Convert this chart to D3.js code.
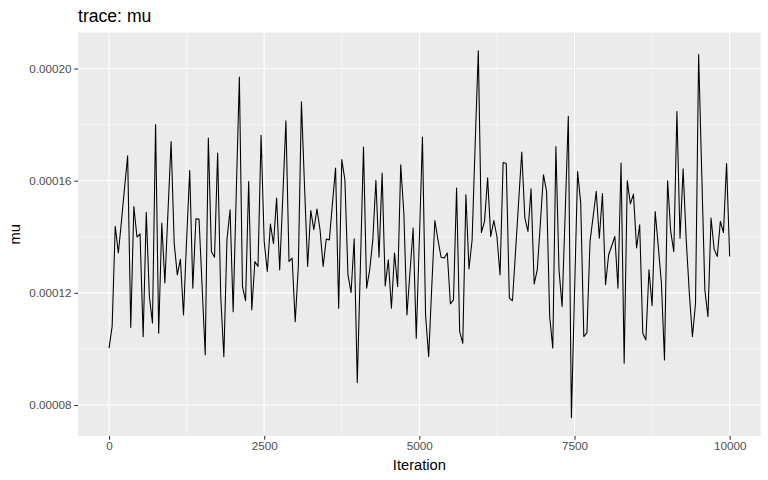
<!DOCTYPE html>
<html>
<head>
<meta charset="utf-8">
<script src="https://cdn.jsdelivr.net/npm/d3@7"></script>
<style>
  html, body { margin: 0; padding: 0; background: #ffffff; }
  svg { display: block; }
  text { font-family: "Liberation Sans", Arial, Helvetica, sans-serif; }
</style>
</head>
<body>
<svg id="chart" width="768" height="480"></svg>
<script>
// ---- data ----
const iterStep = 50;
const muValues = [
  10.03e-5, 10.80e-5, 14.37e-5, 13.42e-5, 14.55e-5, 15.74e-5, 16.89e-5, 10.77e-5, 15.08e-5, 13.99e-5,
  14.10e-5, 10.44e-5, 14.87e-5, 11.87e-5, 10.92e-5, 18.00e-5, 10.56e-5, 14.49e-5, 12.35e-5, 14.90e-5,
  17.40e-5, 13.77e-5, 12.64e-5, 13.20e-5, 11.21e-5, 13.89e-5, 16.36e-5, 12.17e-5, 14.64e-5, 14.63e-5,
  12.22e-5, 9.79e-5, 17.52e-5, 13.47e-5, 13.27e-5, 16.99e-5, 11.87e-5, 9.72e-5, 13.89e-5, 14.96e-5,
  11.33e-5, 15.56e-5, 19.70e-5, 12.22e-5, 11.72e-5, 15.97e-5, 11.39e-5, 13.12e-5, 12.94e-5, 17.62e-5,
  13.83e-5, 12.76e-5, 14.45e-5, 13.75e-5, 15.38e-5, 12.82e-5, 15.44e-5, 18.14e-5, 13.12e-5, 13.24e-5,
  10.97e-5, 12.94e-5, 18.81e-5, 15.80e-5, 12.94e-5, 14.94e-5, 14.25e-5, 14.99e-5, 14.25e-5, 12.94e-5,
  13.92e-5, 13.89e-5, 15.20e-5, 16.45e-5, 11.45e-5, 16.75e-5, 16.04e-5, 12.64e-5, 12.01e-5, 13.93e-5,
  8.80e-5, 12.94e-5, 17.20e-5, 12.17e-5, 12.82e-5, 13.89e-5, 16.01e-5, 13.27e-5, 16.27e-5, 12.25e-5,
  13.18e-5, 11.45e-5, 13.42e-5, 12.22e-5, 16.57e-5, 14.85e-5, 11.21e-5, 12.76e-5, 14.31e-5, 10.38e-5,
  13.89e-5, 17.56e-5, 11.21e-5, 9.72e-5, 12.22e-5, 14.58e-5, 13.89e-5, 13.27e-5, 13.24e-5, 13.42e-5,
  11.61e-5, 11.75e-5, 15.74e-5, 10.62e-5, 10.20e-5, 15.50e-5, 12.85e-5, 13.89e-5, 17.35e-5, 20.63e-5,
  14.15e-5, 14.55e-5, 16.10e-5, 14.01e-5, 14.58e-5, 14.01e-5, 12.64e-5, 16.65e-5, 16.61e-5, 11.81e-5,
  11.72e-5, 13.47e-5, 15.26e-5, 17.02e-5, 14.67e-5, 14.19e-5, 15.71e-5, 12.32e-5, 12.82e-5, 14.49e-5,
  16.21e-5, 15.62e-5, 11.15e-5, 10.03e-5, 17.22e-5, 12.82e-5, 11.51e-5, 14.85e-5, 18.30e-5, 7.55e-5,
  11.99e-5, 16.33e-5, 15.20e-5, 10.44e-5, 10.58e-5, 13.83e-5, 14.72e-5, 15.62e-5, 13.95e-5, 15.54e-5,
  12.29e-5, 13.36e-5, 13.68e-5, 14.01e-5, 12.17e-5, 16.63e-5, 9.49e-5, 16.00e-5, 15.17e-5, 15.52e-5,
  13.60e-5, 14.43e-5, 10.56e-5, 10.32e-5, 12.82e-5, 11.54e-5, 14.90e-5, 13.65e-5, 12.35e-5, 9.61e-5,
  16.00e-5, 14.19e-5, 13.47e-5, 18.47e-5, 13.95e-5, 16.42e-5, 13.89e-5, 11.99e-5, 10.44e-5, 11.63e-5,
  20.50e-5, 16.27e-5, 12.11e-5, 11.15e-5, 14.67e-5, 13.56e-5, 13.30e-5, 14.55e-5, 14.15e-5, 16.61e-5,
  13.30e-5
];
const iterations = muValues.map((_, i) => i * iterStep);
const xTicks = [0, 2500, 5000, 7500, 10000];
const xMinor = [1250, 3750, 6250, 8750];
const yTicks = [0.00008, 0.00012, 0.00016, 0.00020];
const yTickLabels = ["0.00008", "0.00012", "0.00016", "0.00020"];
const yMinor = [0.00010, 0.00014, 0.00018];
const titleText = "trace: mu";
const xTitle = "Iteration";
const yTitle = "mu";

// ---- layout ----
const W = 768, H = 480;
const panel = { left: 78, right: 760.7, top: 32.5, bottom: 436 };

const svg = d3.select("#chart");

function expand(ext, f) {
  const r = ext[1] - ext[0];
  return [ext[0] - r * f, ext[1] + r * f];
}

const x = d3.scaleLinear()
  .domain(expand(d3.extent(iterations), 0.05))
  .range([panel.left, panel.right]);
const y = d3.scaleLinear()
  .domain(expand(d3.extent(muValues), 0.05))
  .range([panel.bottom, panel.top]);

// panel background
svg.append("rect")
  .attr("x", panel.left).attr("y", panel.top)
  .attr("width", panel.right - panel.left)
  .attr("height", panel.bottom - panel.top)
  .attr("fill", "#EBEBEB");

const grid = svg.append("g");
// minor grid
grid.selectAll("line.xminor").data(xMinor).enter().append("line")
  .attr("x1", d => x(d)).attr("x2", d => x(d))
  .attr("y1", panel.top).attr("y2", panel.bottom)
  .attr("stroke", "#ffffff").attr("stroke-width", 0.53);
grid.selectAll("line.yminor").data(yMinor).enter().append("line")
  .attr("y1", d => y(d)).attr("y2", d => y(d))
  .attr("x1", panel.left).attr("x2", panel.right)
  .attr("stroke", "#ffffff").attr("stroke-width", 0.53);
// major grid
grid.selectAll("line.xmajor").data(xTicks).enter().append("line")
  .attr("x1", d => x(d)).attr("x2", d => x(d))
  .attr("y1", panel.top).attr("y2", panel.bottom)
  .attr("stroke", "#ffffff").attr("stroke-width", 1.07);
grid.selectAll("line.ymajor").data(yTicks).enter().append("line")
  .attr("y1", d => y(d)).attr("y2", d => y(d))
  .attr("x1", panel.left).attr("x2", panel.right)
  .attr("stroke", "#ffffff").attr("stroke-width", 1.07);

// trace line
const line = d3.line()
  .x((d, i) => x(iterations[i]))
  .y(d => y(d));
svg.append("path")
  .datum(muValues)
  .attr("d", line)
  .attr("fill", "none")
  .attr("stroke", "#000000")
  .attr("stroke-width", 1.07)
  .attr("stroke-linejoin", "round");

// axes
const xAxis = d3.axisBottom(x).tickValues(xTicks).tickSize(3.67).tickPadding(2.5)
  .tickFormat(d3.format("d"));
const gx = svg.append("g")
  .attr("transform", `translate(0,${panel.bottom})`)
  .call(xAxis);
gx.select(".domain").remove();
gx.selectAll(".tick line").attr("stroke", "#333333").attr("stroke-width", 1.07);
gx.selectAll(".tick text").attr("fill", "#4D4D4D").attr("font-size", "11.7px")
  .style("font-family", "'Liberation Sans', Arial, sans-serif");

const yAxis = d3.axisLeft(y).tickValues(yTicks).tickSize(3.67).tickPadding(2.93)
  .tickFormat((d, i) => yTickLabels[i]);
const gy = svg.append("g")
  .attr("transform", `translate(${panel.left},0)`)
  .call(yAxis);
gy.select(".domain").remove();
gy.selectAll(".tick line").attr("stroke", "#333333").attr("stroke-width", 1.07);
gy.selectAll(".tick text").attr("fill", "#4D4D4D").attr("font-size", "11.7px")
  .style("font-family", "'Liberation Sans', Arial, sans-serif");

// titles
svg.append("text")
  .attr("x", (panel.left + panel.right) / 2)
  .attr("y", 469.5)
  .attr("text-anchor", "middle")
  .attr("font-size", "14.7px")
  .attr("fill", "#000000")
  .text(xTitle);

svg.append("text")
  .attr("transform", `translate(19.5,${(panel.top + panel.bottom) / 2}) rotate(-90)`)
  .attr("text-anchor", "middle")
  .attr("font-size", "14.7px")
  .attr("fill", "#000000")
  .text(yTitle);

svg.append("text")
  .attr("x", panel.left)
  .attr("y", 22)
  .attr("font-size", "17.6px")
  .attr("fill", "#000000")
  .text(titleText);
</script>
</body>
</html>
